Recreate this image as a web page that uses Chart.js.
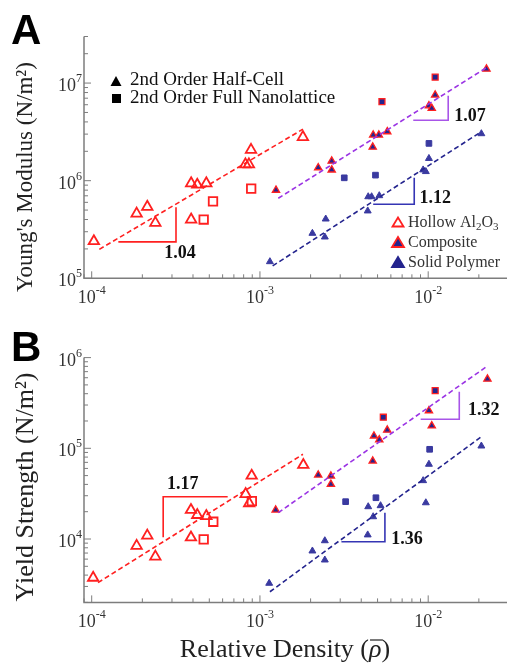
<!DOCTYPE html>
<html>
<head>
<meta charset="utf-8">
<script src="https://cdn.jsdelivr.net/npm/chart.js@4.4.1/dist/chart.umd.min.js"></script>
<style>
  html, body { margin: 0; padding: 0; background: #fff; }
  #wrap { position: relative; width: 507px; height: 664px; overflow: hidden; }
  canvas { position: absolute; left: 0; }
  #cA { top: 0; }
  #cB { top: 320px; }
</style>
</head>
<body>
<div id="wrap">
  <canvas id="cA" width="507" height="320" style="width:507px;height:320px"></canvas>
  <canvas id="cB" width="507" height="344" style="width:507px;height:344px"></canvas>
</div>
<script>
// ---- axes
const xRange = [9e-5, 2.94e-2];
const aRange = [1e5, 3e7];
const bRange = [2e3, 1e6];
const xTickExps = [-4, -3, -2];
const aTickExps = [5, 6, 7];
const bTickExps = [4, 5, 6];

// ---- panel A: Young's modulus (N/m2) vs relative density
const aHollowTri = [[1.03e-4, 2.4e5], [1.85e-4, 4.6e5], [2.14e-4, 5.4e5], [2.39e-4, 3.7e5], [3.9e-4, 9.4e5], [4.24e-4, 9.1e5],
  [4.8e-4, 9.4e5], [3.9e-4, 4.0e5], [8.2e-4, 1.47e6], [8.6e-4, 1.47e6], [8.85e-4, 2.07e6], [1.8e-3, 2.8e6]];
const aHollowSq = [[4.63e-4, 4.0e5], [5.26e-4, 6.15e5], [8.87e-4, 8.3e5]];
const aCompTri = [[1.245e-3, 8.0e5], [2.22e-3, 1.36e6], [2.67e-3, 1.59e6], [2.67e-3, 1.29e6], [4.71e-3, 2.94e6], [5.09e-3, 2.94e6],
  [5.71e-3, 3.18e6], [4.68e-3, 2.21e6], [1.01e-2, 5.86e6], [1.05e-2, 5.52e6], [1.10e-2, 7.55e6], [2.22e-2, 1.39e7]];
const aCompSq = [[5.31e-3, 6.44e6], [1.10e-2, 1.15e7]];
const aSolidTri = [[1.146e-3, 1.48e5], [2.05e-3, 2.89e5], [2.46e-3, 4.05e5], [2.43e-3, 2.65e5], [4.40e-3, 6.85e5], [4.61e-3, 6.85e5],
  [5.12e-3, 7.02e5], [4.37e-3, 4.9e5], [9.33e-3, 1.29e6], [9.68e-3, 1.24e6], [1.01e-2, 1.69e6], [2.07e-2, 3.03e6]];
const aSolidSq = [[3.17e-3, 1.07e6], [4.86e-3, 1.14e6], [1.01e-2, 2.41e6]];
const aFitHollow = [[1.11e-4, 1.98e5], [1.80e-3, 3.37e6]];
const aFitComp = [[1.285e-3, 6.6e5], [2.22e-2, 1.44e7]];
const aFitSolid = [[1.19e-3, 1.34e5], [2.07e-2, 3.18e6]];
const aSlopeHollow = [[1.44e-4, 2.36e5], [3.17e-4, 2.36e5], [3.17e-4, 5.33e5]];
const aSlopeComp = [[8.15e-3, 4.16e6], [1.315e-2, 4.16e6], [1.315e-2, 7.43e6]];
const aSlopeSolid = [[4.71e-3, 5.73e5], [8.26e-3, 5.73e5], [8.26e-3, 1.07e6]];
const aSlopeLabels = [['1.04', 3.35e-4, 1.82e5], ['1.07', 1.77e-2, 4.6e6], ['1.12', 1.10e-2, 6.65e5]];

// ---- panel B: yield strength (N/m2) vs relative density
const bHollowTri = [[1.02e-4, 3.74e3], [1.85e-4, 8.4e3], [2.14e-4, 1.09e4], [2.39e-4, 6.4e3], [3.89e-4, 2.09e4], [4.24e-4, 1.84e4],
  [4.8e-4, 1.79e4], [3.89e-4, 1.04e4], [8.22e-4, 3.13e4], [8.63e-4, 2.48e4], [8.93e-4, 4.99e4], [1.81e-3, 6.55e4]];
const bHollowSq = [[4.63e-4, 9.9e3], [5.28e-4, 1.55e4], [8.95e-4, 2.62e4]];
const bCompTri = [[1.24e-3, 2.09e4], [2.22e-3, 5.08e4], [2.64e-3, 4.95e4], [2.64e-3, 4.01e4], [4.76e-3, 1.37e5], [5.12e-3, 1.24e5],
  [5.71e-3, 1.59e5], [4.68e-3, 7.24e4], [1.01e-2, 2.6e5], [1.05e-2, 1.77e5], [2.25e-2, 5.8e5]];
const bCompSq = [[5.41e-3, 2.2e5], [1.10e-2, 4.32e5]];
const bSolidTri = [[1.135e-3, 3.25e3], [2.05e-3, 7.38e3], [2.43e-3, 9.57e3], [2.43e-3, 5.87e3], [4.40e-3, 2.27e4], [5.21e-3, 2.33e4],
  [4.71e-3, 1.76e4], [4.37e-3, 1.11e4], [9.33e-3, 4.4e4], [1.01e-2, 6.67e4], [9.68e-3, 2.51e4], [2.07e-2, 1.06e5]];
const bSolidSq = [[3.23e-3, 2.58e4], [4.89e-3, 2.85e4], [1.02e-2, 9.75e4]];
const bFitHollow = [[1.09e-4, 3.30e3], [1.80e-3, 8.59e4]];
const bFitComp = [[1.285e-3, 1.95e4], [2.25e-2, 8.07e5]];
const bFitSolid = [[1.146e-3, 2.62e3], [2.07e-2, 1.34e5]];
const bSlopeHollow = [[6.43e-4, 2.92e4], [2.66e-4, 2.92e4], [2.66e-4, 1.045e4]];
const bSlopeComp = [[9.02e-3, 2.09e5], [1.53e-2, 2.09e5], [1.53e-2, 4.21e5]];
const bSlopeSolid = [[3.05e-3, 9.33e3], [5.53e-3, 9.33e3], [5.53e-3, 1.95e4]];
const bSlopeLabels = [['1.17', 3.48e-4, 4.04e4], ['1.32', 2.14e-2, 2.64e5], ['1.36', 7.48e-3, 1.0e4]];

const RED = '#ff2020';
const PURPLE = '#9b34e4';
const NAVY = '#24248e';
const SOLID = '#3a3aa0';
const AXIS = '#7d7d7d';
const SERIF = '"Liberation Serif", "Times New Roman", serif';

function pts(arr) { return arr.map(([x, y]) => ({ x, y })); }

function marks(data, style, fill, border, r, bw) {
  return { data: pts(data), pointStyle: style, pointRadius: r, pointBackgroundColor: fill,
    pointBorderColor: border, pointBorderWidth: bw, showLine: false, clip: false };
}

function line(data, color, dash) {
  return { data: pts(data), showLine: true, borderColor: color, borderWidth: 1.6, borderDash: dash,
    pointRadius: 0, fill: false, tension: 0, clip: false };
}

function panelSets(p) {
  return [
    line(p.fitHollow, RED, [5, 3]),
    line(p.fitComp, PURPLE, [5, 3]),
    line(p.fitSolid, NAVY, [5, 3]),
    line(p.slopeHollow, RED, []),
    line(p.slopeComp, '#a855e8', []),
    line(p.slopeSolid, '#3535b4', []),
    marks(p.hollowTri, 'triangle', 'rgba(255,255,255,0)', RED, 6, 1.8),
    marks(p.hollowSq, 'rect', 'rgba(255,255,255,0)', RED, 6, 1.8),
    marks(p.solidTri, 'triangle', SOLID, SOLID, 4, 1),
    marks(p.solidSq, 'rect', SOLID, SOLID, 4, 1),
    marks(p.compTri, 'triangle', NAVY, RED, 4.2, 1.3),
    marks(p.compSq, 'rect', NAVY, RED, 4.2, 1.3),
  ];
}

function powLabel(ctx, exp, x, y, align) {
  const base = '10', sup = String(exp);
  ctx.font = '18px ' + SERIF;
  const wb = ctx.measureText(base).width;
  ctx.font = '12px ' + SERIF;
  const ws = ctx.measureText(sup).width;
  const left = align === 'right' ? x - wb - ws : x - (wb + ws) / 2;
  ctx.textAlign = 'left';
  ctx.textBaseline = 'alphabetic';
  ctx.font = '18px ' + SERIF;
  ctx.fillText(base, left, y);
  ctx.font = '12px ' + SERIF;
  ctx.fillText(sup, left + wb, y - 9);
}

function logTicks(ctx, scale, min, max, draw) {
  for (let n = Math.floor(Math.log10(min)); n <= Math.ceil(Math.log10(max)); n++) {
    for (let m = 1; m <= 9; m++) {
      const v = m * Math.pow(10, n);
      if (v < min * 0.999 || v > max * 1.001) continue;
      draw(scale.getPixelForValue(v), m === 1);
    }
  }
}

function seq(ctx, x, y, parts) {
  // parts: [text, font, dy]
  let cx = x;
  parts.forEach(([t, f, dy]) => {
    ctx.font = f;
    ctx.fillText(t, cx, y + (dy || 0));
    cx += ctx.measureText(t).width;
  });
  return cx;
}

function decor(p) {
  return {
    id: 'decor',
    beforeDatasetsDraw(chart) {
      const { ctx, chartArea: a, scales: { x, y } } = chart;
      ctx.save();
      ctx.strokeStyle = AXIS;
      ctx.lineWidth = 1.5;
      ctx.beginPath();
      ctx.moveTo(a.left, a.top);
      ctx.lineTo(a.left, a.bottom);
      ctx.lineTo(a.right, a.bottom);
      ctx.stroke();
      ctx.lineWidth = 1;
      ctx.beginPath();
      logTicks(ctx, y, p.yRange[0], p.yRange[1], (py, major) => {
        ctx.moveTo(a.left, py); ctx.lineTo(a.left + (major ? 7 : 4), py);
      });
      logTicks(ctx, x, xRange[0], xRange[1], (px, major) => {
        ctx.moveTo(px, a.bottom); ctx.lineTo(px, a.bottom - (major ? 7 : 4));
      });
      ctx.stroke();

      ctx.fillStyle = '#333';
      p.yExps.forEach(e => powLabel(ctx, e, a.left - 2, y.getPixelForValue(Math.pow(10, e)) + 8, 'right'));
      xTickExps.forEach(e => powLabel(ctx, '-' + Math.abs(e), x.getPixelForValue(Math.pow(10, e)), a.bottom + 25, 'center'));
      ctx.restore();
    },
    afterDatasetsDraw(chart) {
      const { ctx, scales: { x, y } } = chart;
      ctx.save();
      // slope labels
      ctx.fillStyle = '#111';
      ctx.font = 'bold 18px ' + SERIF;
      ctx.textAlign = 'center';
      ctx.textBaseline = 'middle';
      p.slopeLabels.forEach(([t, vx, vy]) => ctx.fillText(t, x.getPixelForValue(vx), y.getPixelForValue(vy)));

      // panel letter
      ctx.fillStyle = '#000';
      ctx.font = 'bold 42px "Liberation Sans", Arial, sans-serif';
      ctx.textAlign = 'left';
      ctx.textBaseline = 'alphabetic';
      ctx.fillText(p.letter, 11, p.letterY);

      // y title
      ctx.save();
      ctx.translate(26, p.titleY);
      ctx.rotate(-Math.PI / 2);
      ctx.fillStyle = '#222';
      ctx.font = p.titleFont + 'px ' + SERIF;
      ctx.textAlign = 'center';
      ctx.textBaseline = 'middle';
      ctx.fillText(p.title, 0, 0);
      ctx.restore();

      if (p.extra) p.extra(ctx);
      ctx.restore();
    }
  };
}

function legendA(ctx) {
  const tri = (cx, cy, w, h, fill, stroke) => {
    ctx.beginPath();
    ctx.moveTo(cx - w / 2, cy + h / 2);
    ctx.lineTo(cx + w / 2, cy + h / 2);
    ctx.lineTo(cx, cy - h / 2);
    ctx.closePath();
    if (fill) { ctx.fillStyle = fill; ctx.fill(); }
    if (stroke) { ctx.strokeStyle = stroke; ctx.lineWidth = 1.8; ctx.stroke(); }
  };
  tri(116, 81, 11, 10, '#000');
  ctx.fillStyle = '#000';
  ctx.fillRect(112, 94, 9, 9);
  ctx.fillStyle = '#111';
  ctx.textAlign = 'left';
  ctx.textBaseline = 'alphabetic';
  ctx.font = '19px ' + SERIF;
  ctx.fillText('2nd Order Half-Cell', 130, 85);
  ctx.fillText('2nd Order Full Nanolattice', 130, 103);

  tri(398, 222, 11, 9, null, RED);
  tri(398, 242, 12, 10, NAVY, RED);
  tri(398, 262, 12, 10, NAVY, NAVY);
  ctx.fillStyle = '#333';
  const f = '16px ' + SERIF, s = '11px ' + SERIF;
  seq(ctx, 408, 227, [['Hollow Al', f], ['2', s, 3], ['O', f], ['3', s, 3]]);
  ctx.font = f;
  ctx.fillText('Composite', 408, 247);
  ctx.fillText('Solid Polymer', 408, 267);
}

function xTitle(ctx) {
  const f = '26px ' + SERIF, fi = 'italic 26px ' + SERIF;
  ctx.fillStyle = '#222';
  ctx.textAlign = 'left';
  ctx.textBaseline = 'alphabetic';
  ctx.font = f;
  const w1 = ctx.measureText('Relative Density (').width;
  const w3 = ctx.measureText(')').width;
  ctx.font = fi;
  const w2 = ctx.measureText('ρ').width;
  const left = 285 - (w1 + w2 + w3) / 2, base = 337;
  ctx.font = f; ctx.fillText('Relative Density (', left, base);
  ctx.font = fi; ctx.fillText('ρ', left + w1, base);
  ctx.font = f; ctx.fillText(')', left + w1 + w2, base);
  ctx.strokeStyle = '#222';
  ctx.lineWidth = 1.2;
  ctx.beginPath();
  ctx.moveTo(left + w1 + 1, base - 17);
  ctx.lineTo(left + w1 + w2 + 1, base - 17);
  ctx.stroke();
}

function makeChart(id, p, pad) {
  return new Chart(document.getElementById(id), {
    type: 'scatter',
    data: { datasets: panelSets(p) },
    options: {
      responsive: false,
      animation: false,
      events: [],
      layout: { padding: pad, autoPadding: false },
      plugins: { legend: { display: false }, tooltip: { enabled: false } },
      scales: {
        x: { type: 'logarithmic', min: xRange[0], max: xRange[1], display: false },
        y: { type: 'logarithmic', min: p.yRange[0], max: p.yRange[1], display: false },
      },
    },
    plugins: [decor(p)],
  });
}

makeChart('cA', {
  letter: 'A', letterY: 44, title: "Young's Modulus (N/m²)", titleY: 177, titleFont: 23,
  yRange: aRange, yExps: aTickExps,
  hollowTri: aHollowTri, hollowSq: aHollowSq, compTri: aCompTri, compSq: aCompSq,
  solidTri: aSolidTri, solidSq: aSolidSq,
  fitHollow: aFitHollow, fitComp: aFitComp, fitSolid: aFitSolid,
  slopeHollow: aSlopeHollow, slopeComp: aSlopeComp, slopeSolid: aSlopeSolid, slopeLabels: aSlopeLabels,
  extra: legendA,
}, { left: 84, right: 0, top: 36.5, bottom: 41.7 });

makeChart('cB', {
  letter: 'B', letterY: 41, title: 'Yield Strength (N/m²)', titleY: 167, titleFont: 26,
  yRange: bRange, yExps: bTickExps,
  hollowTri: bHollowTri, hollowSq: bHollowSq, compTri: bCompTri, compSq: bCompSq,
  solidTri: bSolidTri, solidSq: bSolidSq,
  fitHollow: bFitHollow, fitComp: bFitComp, fitSolid: bFitSolid,
  slopeHollow: bSlopeHollow, slopeComp: bSlopeComp, slopeSolid: bSlopeSolid, slopeLabels: bSlopeLabels,
  extra: xTitle,
}, { left: 84, right: 0, top: 37.6, bottom: 61.6 });
</script>
</body>
</html>
